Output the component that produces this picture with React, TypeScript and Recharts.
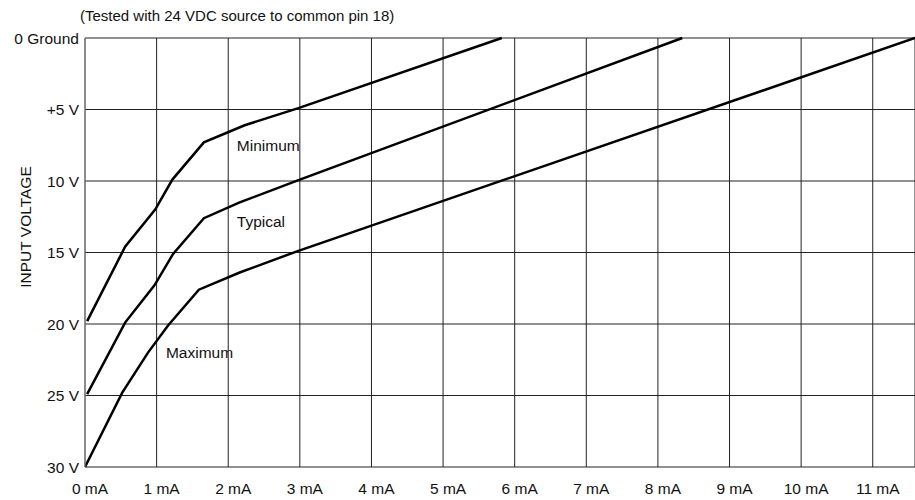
import { LineChart, Line, XAxis, YAxis, CartesianGrid, ReferenceDot } from "recharts";

// input current (mA) vs input voltage (V) for the three curves
const minCurrent = [0.03, 0.56, 0.98, 1.22, 1.66, 2.23, 2.98, 5.82];
const minVoltage = [19.8, 14.6, 12.0, 9.9, 7.3, 6.1, 4.9, 0];

const typCurrent = [0.03, 0.56, 0.97, 1.23, 1.66, 2.16, 3.0, 8.34];
const typVoltage = [24.9, 19.9, 17.3, 15.1, 12.6, 11.5, 9.9, 0];

const maxCurrent = [0, 0.52, 0.88, 1.16, 1.59, 2.16, 2.97, 11.59];
const maxVoltage = [30, 24.8, 22.0, 20.1, 17.6, 16.4, 14.9, 0];

const xTicks = [0, 1, 2, 3, 4, 5, 6, 7, 8, 9, 10, 11];
const yTicks = [0, 5, 10, 15, 20, 25, 30];
const yTickLabels = ["0 Ground", "+5 V", "10 V", "15 V", "20 V", "25 V", "30 V"];

const curveLabels = [
  { name: "Minimum", x: 2.05, y: 7.5 },
  { name: "Typical", x: 2.05, y: 12.8 },
  { name: "Maximum", x: 1.06, y: 22.0 },
];

const toPoints = (xs: number[], ys: number[]) => xs.map((x, i) => ({ ma: x, v: ys[i] }));

const FONT = "'Liberation Sans', Arial, Helvetica, sans-serif";

export default function App() {
  const tickStyle = { fill: "#111", fontSize: 15.5, fontFamily: FONT };

  return (
    <div style={{ position: "absolute", left: 0, top: 0, width: 915, height: 500, background: "#fff" }}>
      <div
        style={{
          position: "absolute",
          left: 80,
          top: 7,
          fontFamily: FONT,
          fontSize: 15,
          color: "#111",
          whiteSpace: "nowrap",
        }}
      >
        (Tested with 24 VDC source to common pin 18)
      </div>
      <LineChart width={915} height={500} margin={{ top: 38, right: 0, bottom: 0, left: 0 }}>
        <CartesianGrid stroke="#222" strokeWidth={1} />
        <XAxis
          type="number"
          dataKey="ma"
          domain={[0, 11.59]}
          ticks={xTicks}
          allowDataOverflow
          height={33}
          tickLine={false}
          axisLine={false}
          tickMargin={10}
          tick={{ ...tickStyle, dx: 5 }}
          tickFormatter={(v: number) => `${v} mA`}
        />
        <YAxis
          type="number"
          dataKey="v"
          domain={[0, 30]}
          ticks={yTicks}
          reversed
          width={85}
          tickLine={false}
          axisLine={{ stroke: "#888" }}
          tickSize={0}
          tickMargin={6}
          tick={tickStyle}
          tickFormatter={(v: number) => yTickLabels[yTicks.indexOf(v)]}
          label={{
            content: () => (
              <text
                x={25}
                y={227}
                transform="rotate(-90, 25, 227)"
                textAnchor="middle"
                dominantBaseline="central"
                fontSize={15.5}
                fontFamily={FONT}
                fill="#111"
              >
                INPUT VOLTAGE
              </text>
            ),
          }}
        />
        <Line data={toPoints(minCurrent, minVoltage)} dataKey="v" type="linear" stroke="#000" strokeWidth={2.5} dot={false} isAnimationActive={false} />
        <Line data={toPoints(typCurrent, typVoltage)} dataKey="v" type="linear" stroke="#000" strokeWidth={2.5} dot={false} isAnimationActive={false} />
        <Line data={toPoints(maxCurrent, maxVoltage)} dataKey="v" type="linear" stroke="#000" strokeWidth={2.5} dot={false} isAnimationActive={false} />
        {curveLabels.map((c) => (
          <ReferenceDot
            key={c.name}
            x={c.x}
            y={c.y}
            r={0}
            fill="none"
            stroke="none"
            label={{ value: c.name, position: "right", fontSize: 15.5, fontFamily: FONT, fill: "#111" }}
          />
        ))}
      </LineChart>
    </div>
  );
}
